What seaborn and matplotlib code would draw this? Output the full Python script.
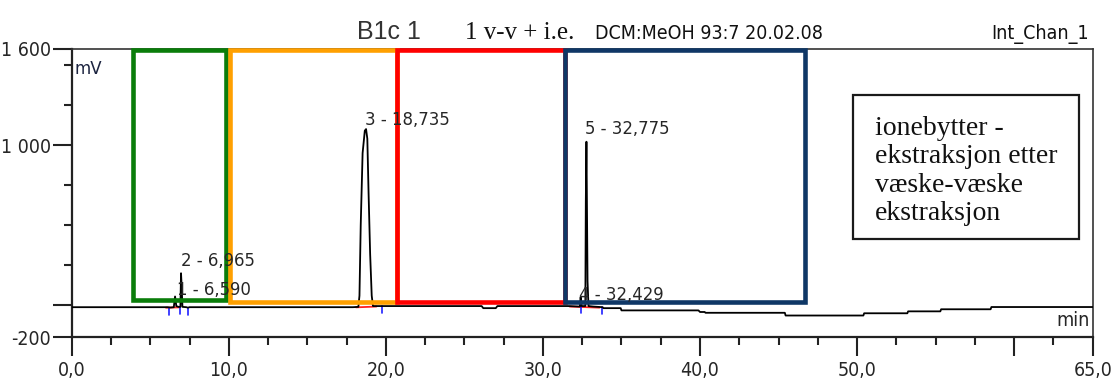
import matplotlib
matplotlib.use("Agg")
import matplotlib.pyplot as plt
import matplotlib.patches as mpatches
from matplotlib import font_manager as fm
import seaborn as sns
import pandas as pd

# ---------------- data ----------------
trace_time = [0.0, 6.10, 6.30, 6.50, 6.58, 6.66, 6.80, 6.92, 6.96, 7.00, 7.05, 7.30, 7.40, 7.50,
              17.9, 18.25, 18.32, 18.40, 18.52, 18.66, 18.74, 18.82, 18.90, 19.00, 19.10, 19.18,
              20.5, 26.1, 26.2, 27.0, 27.1, 31.6, 32.35, 32.40, 32.46, 32.70, 32.73, 32.77, 32.80,
              32.84, 32.90, 33.20, 33.80, 33.85, 34.95, 35.0, 39.9, 40.0, 40.3, 40.35, 45.4, 45.45,
              50.4, 50.45, 53.2, 53.25, 55.3, 55.35, 58.5, 58.55, 65.0]
trace_mv = [-12, -12, -14, -12, 55, -5, -10, -10, 200, 120, -10, -12, -15, -12,
            -12, -10, 60, 500, 950, 1090, 1100, 1040, 700, 320, 60, -5,
            -5, -5, -18, -18, -5, -5, -8, 50, -5, -5, 650, 1021, 650,
            150, -5, -8, -12, -18, -18, -32, -32, -42, -42, -47, -47, -64,
            -64, -50, -50, -38, -38, -25, -25, -11, -11]

peak_names = ["1 - 6,590", "2 - 6,965", "3 - 18,735", "4 - 32,429", "5 - 32,775"]

# integration marks
integ_red_start = [6.0, 18.1, 31.7]
integ_red_end = [6.85, 19.4, 33.6]
integ_blue_time = [6.2, 6.88, 7.4, 19.75, 32.45, 33.75]

# highlighted windows (start min, end min, bottom mV, top mV)
box_start = [3.92, 10.05, 20.71, 31.4]
box_end = [9.85, 20.71, 31.4, 46.68]
box_bottom = [33, 21, 21, 21]
box_top = [1592, 1592, 1592, 1592]
box_colors = ["#0a7d0a", "#ffa000", "#ff0000", "#0f3766"]

x_major = [0, 10, 20, 30, 40, 50, 60, 65]
x_major_labels = ["0,0", "10,0", "20,0", "30,0", "40,0", "50,0", "", "65,0"]
x_minor = [2.5, 5, 7.5, 12.5, 15, 17.5, 22.5, 25, 27.5, 32.5, 35, 37.5, 42.5, 45, 47.5,
           52.5, 55, 57.5, 62.5]
y_major = [-200, 0, 1000, 1600]
y_major_labels = ["-200", "", "1 000", "1 600"]
y_minor = [250, 500, 750, 1250, 1500]

title_parts = ["B1c 1", "1 v-v + i.e.", "DCM:MeOH 93:7 20.02.08", "Int_Chan_1"]
note_lines = ["ionebytter -", "ekstraksjon etter", "væske-væske", "ekstraksjon"]

# ---------------- style ----------------
sns.set_theme(style="white")
fonts = fm.fontManager.ttflist
avail = {f.name for f in fonts}
STRETCH = "normal"
if "Liberation Sans Narrow" in avail:
    NARROW, NS = ["Liberation Sans Narrow", "DejaVu Sans"], 1.0
elif any(f.name == "DejaVu Sans" and str(f.stretch) in ("condensed", "semi-condensed")
         for f in fonts):
    NARROW, NS, STRETCH = ["DejaVu Sans"], 0.88, "condensed"
else:
    NARROW, NS = ["DejaVu Sans"], 0.8
plt.rcParams["font.family"] = NARROW
plt.rcParams["font.stretch"] = STRETCH
SANS = ["Liberation Sans", "DejaVu Sans"]
SERIF = ["Liberation Serif", "DejaVu Serif"]
TXT = "#262626"

W, H = 1113, 380
fig = plt.figure(figsize=(W / 100, H / 100), dpi=100)
fig.patch.set_facecolor("white")


def fx(px):
    return px / W


def fy(py):
    return 1 - py / H


ax = fig.add_axes([fx(71.7), fy(337.3), (1092.7 - 71.7) / W, (337.3 - 49) / H])
ax.set_facecolor("white")
ax.set_xlim(0, 65)
ax.set_ylim(-200, 1600)

df = pd.DataFrame({"time": trace_time, "mV": trace_mv})
sns.lineplot(data=df, x="time", y="mV", ax=ax, color="black", lw=1.3,
             estimator=None, sort=False, zorder=3)

# integration marks
base_lookup = lambda t: min(zip(trace_time, trace_mv), key=lambda p: abs(p[0] - t))[1]
for s, e in zip(integ_red_start, integ_red_end):
    ax.plot([s, e], [base_lookup(s) - 3, base_lookup(e) - 3], color="#ff2020", lw=1.3, zorder=2)
for t in integ_blue_time:
    b = base_lookup(t)
    ax.plot([t, t], [b, b - 45], color="#2020ff", lw=1.2, zorder=2)

# colored windows
for s, e, b, t, c in zip(box_start, box_end, box_bottom, box_top, box_colors):
    ax.add_patch(mpatches.Rectangle((s, b), e - s, t - b, fill=False, edgecolor=c,
                                    lw=3.3, zorder=4, joinstyle="miter", clip_on=False))

# peak labels (layout positions: min, mV of text baseline-left)
label_pos = [(6.68, 64), (6.98, 245), (18.67, 1126), (32.29, 33), (32.67, 1070)]
for name, (lx, ly) in zip(peak_names, label_pos):
    ax.text(lx, ly, name, fontsize=15 * NS, color=TXT, ha="left", va="baseline",
            family=NARROW, fontstretch=STRETCH, zorder=5)

ax.text(1.0 - 2.7 / 1021, (337.3 - 326) / 288.3, "min", transform=ax.transAxes,
        ha="right", va="baseline", fontsize=16 * NS, color=TXT, family=NARROW,
        fontstretch=STRETCH)
ax.text(2.5 / 1021, 1 - (74 - 49) / 288.3, "mV", transform=ax.transAxes,
        ha="left", va="baseline", fontsize=15 * NS, color="#1c2440", family=NARROW,
        fontstretch=STRETCH)

# ticks
ax.set_xticks(x_major)
ax.set_xticklabels(x_major_labels)
ax.set_xticks(x_minor, minor=True)
ax.set_yticks(y_major)
ax.set_yticklabels(y_major_labels)
ax.set_yticks(y_minor, minor=True)
ax.tick_params(which="major", direction="out", length=14, width=1.5, color="#222222",
               labelsize=16 * NS, labelcolor=TXT)
ax.tick_params(which="minor", direction="out", length=6, width=1.5, color="#222222")
ax.tick_params(axis="x", which="major", pad=3, bottom=True)
ax.tick_params(axis="x", which="minor", bottom=True)
ax.tick_params(axis="y", which="both", left=True)
ax.tick_params(axis="y", which="major", pad=1)
for lab in ax.get_xticklabels() + ax.get_yticklabels():
    lab.set_family(NARROW)
    lab.set_fontstretch(STRETCH)
ax.set_xlabel("")
ax.set_ylabel("")

for side in ["left", "bottom"]:
    ax.spines[side].set_linewidth(1.6)
    ax.spines[side].set_color("#222222")
for side in ["top", "right"]:
    ax.spines[side].set_linewidth(1.2)
    ax.spines[side].set_color("#333333")
    ax.spines[side].set_visible(True)

# title line
fig.text(fx(357), fy(39), title_parts[0], family=SANS, fontsize=18, color="#333333",
         ha="left", va="baseline")
fig.text(fx(465), fy(39), title_parts[1], family=SERIF, fontsize=18, color="#111111",
         ha="left", va="baseline")
fig.text(fx(595), fy(39), title_parts[2], family=NARROW, fontstretch=STRETCH,
         fontsize=16 * NS, color="#111111", ha="left", va="baseline")
fig.text(fx(1089), fy(39), title_parts[3], family=NARROW, fontstretch=STRETCH,
         fontsize=16 * NS, color="#111111", ha="right", va="baseline")

# note box
fig.patches.append(mpatches.Rectangle((fx(852.7), fy(239)), (1079 - 852.7) / W, (239 - 95) / H,
                                      transform=fig.transFigure, fill=True, facecolor="white",
                                      edgecolor="#1a1a1a", lw=1.6, zorder=6))
for i, line in enumerate(note_lines):
    fig.text(fx(875), fy(135 + 28.3 * i), line, family=SERIF, fontsize=20, color="#111111",
             ha="left", va="baseline", zorder=7)

fig.savefig("out.png", dpi=100, facecolor="white")
